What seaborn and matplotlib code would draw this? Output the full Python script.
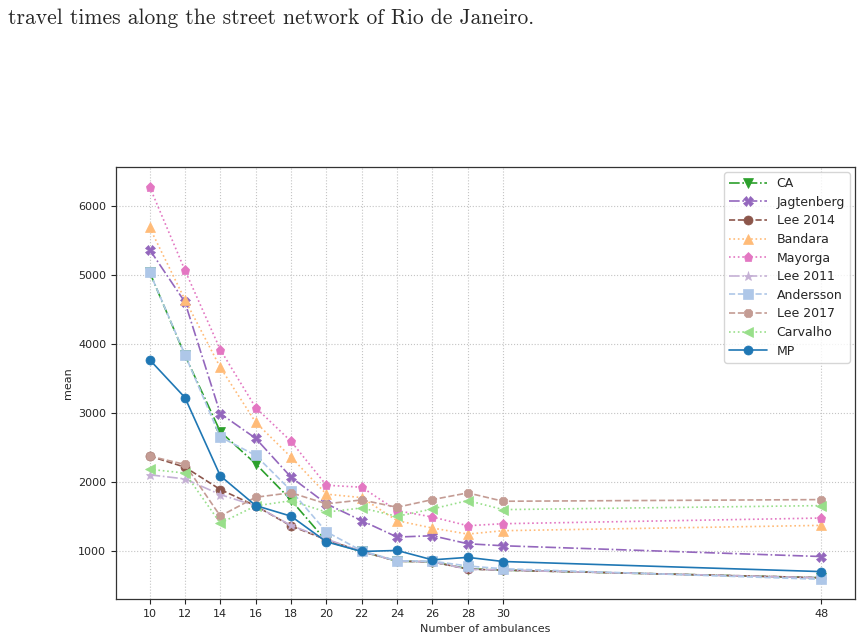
import numpy as np
import pandas as pd
import seaborn as sns
import matplotlib
matplotlib.use('Agg')
import matplotlib.pyplot as plt

# number of ambulances
ambulances = [10, 12, 14, 16, 18, 20, 22, 24, 26, 28, 30, 48]

# mean response time per method
ca = [5045, 3840, 2734, 2270, 1745, 1150, 1000, 860, 850, 750, 730, 620]
jagtenberg = [5370, 4609, 2996, 2638, 2076, 1690, 1446, 1209, 1228, 1112, 1083, 927]
lee2014 = [2381, 2221, 1897, 1660, 1370, 1170, 1000, 860, 850, 745, 730, 620]
bandara = [5690, 4644, 3664, 2870, 2366, 1830, 1780, 1446, 1339, 1252, 1301, 1378]
mayorga = [6280, 5070, 3921, 3083, 2594, 1959, 1930, 1591, 1499, 1373, 1402, 1484]
lee2011 = [2110, 2050, 1824, 1660, 1378, 1180, 1000, 860, 850, 745, 730, 620]
andersson = [5045, 3849, 2657, 2391, 1882, 1285, 1010, 865, 860, 790, 750, 597]
lee2017 = [2381, 2260, 1513, 1785, 1850, 1690, 1746, 1640, 1751, 1848, 1727, 1751]
carvalho = [2190, 2135, 1411, 1660, 1735, 1570, 1630, 1509, 1616, 1737, 1606, 1664]
mp = [3776, 3228, 2095, 1665, 1511, 1140, 1000, 1015, 879, 915, 855, 709]

methods = ['CA', 'Jagtenberg', 'Lee 2014', 'Bandara', 'Mayorga',
           'Lee 2011', 'Andersson', 'Lee 2017', 'Carvalho', 'MP']
series = [ca, jagtenberg, lee2014, bandara, mayorga,
          lee2011, andersson, lee2017, carvalho, mp]

styles = {
    'CA':         ('#2ca02c', 'v', '-.'),
    'Jagtenberg': ('#9467bd', 'X', '-.'),
    'Lee 2014':   ('#8c564b', 'o', '--'),
    'Bandara':    ('#ffbb78', '^', ':'),
    'Mayorga':    ('#e377c2', 'p', ':'),
    'Lee 2011':   ('#c5b0d5', '*', '-.'),
    'Andersson':  ('#aec7e8', 's', '--'),
    'Lee 2017':   ('#c49c94', '8', '--'),
    'Carvalho':   ('#98df8a', '<', ':'),
    'MP':         ('#1f77b4', 'o', '-'),
}

df = pd.DataFrame({
    'n': np.tile(ambulances, len(methods)),
    'mean': np.concatenate(series),
    'method': np.repeat(methods, len(ambulances)),
})

sns.set_style('white')
plt.rcParams['font.family'] = ['DejaVu Sans']

fig = plt.figure(figsize=(8.63, 6.37), dpi=100)
ax = fig.add_axes([0.1344, 0.0597, 0.8563, 0.6781])

for m in methods:
    color, marker, ls = styles[m]
    sns.lineplot(data=df[df['method'] == m], x='n', y='mean', ax=ax,
                 color=color, marker=marker, linestyle=ls, label=m,
                 markersize=6.5, linewidth=1.2, markeredgewidth=0.5,
                 markeredgecolor=color, errorbar=None)

ax.set_xticks(ambulances)
ax.set_xticklabels([str(a) for a in ambulances], fontsize=8)
ax.tick_params(axis='y', labelsize=8)
ax.tick_params(axis='both', direction='out', length=3.5, width=0.8, left=True, bottom=True)
ax.set_xlabel('Number of ambulances', fontsize=8)
ax.set_ylabel('mean', fontsize=8)
ax.grid(True, linestyle=':', color='#c4c4c4', linewidth=0.8)
for s in ax.spines.values():
    s.set_color('#333333')
    s.set_linewidth(0.9)

leg = ax.legend(loc='upper right', fontsize=9, frameon=True, handlelength=3,
                borderaxespad=0.4, labelspacing=0.45)
leg.get_frame().set_edgecolor('#cccccc')

# caption line from the paper page above the figure
fig.text(0.009, 0.972, 'travel times along the street network of Rio de Janeiro.',
         fontsize=15.5, family=['cmr10', 'DejaVu Serif'], va='center', ha='left')

fig.savefig('out.png', dpi=100)
